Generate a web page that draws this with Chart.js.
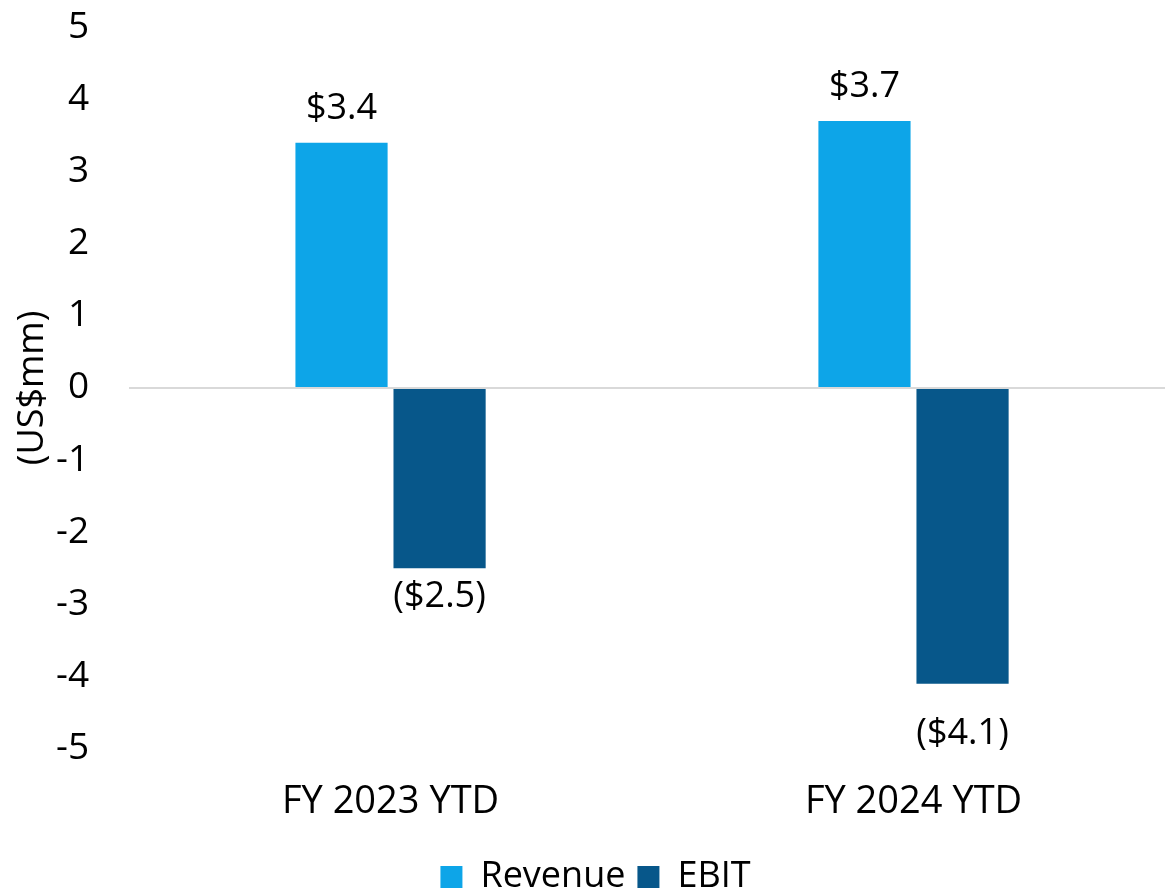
<!DOCTYPE html>
<html>
<head>
<meta charset="utf-8">
<script src="https://cdn.jsdelivr.net/npm/chart.js@4/dist/chart.umd.min.js"></script>
<style>
html,body{margin:0;padding:0;background:#fff;overflow:hidden;width:1165px;height:891px;}
#wrap{position:absolute;left:0;top:-34.7px;width:1175px;height:940px;}
</style>
</head>
<body>
<div id="wrap"><canvas id="c"></canvas></div>
<script>
const categories = ["FY 2023 YTD", "FY 2024 YTD"];
const revenue = [3.4, 3.7];
const ebit = [-2.5, -4.1];
const revenueLabels = ["$3.4", "$3.7"];
const ebitLabels = ["($2.5)", "($4.1)"];
const yTitle = "(US$mm)";

const FONT = "'Open Sans', sans-serif";

const valueLabels = {
  id: 'valueLabels',
  afterDatasetsDraw(chart, args, opts) {
    const ctx = chart.ctx;
    ctx.save();
    ctx.font = "36px " + FONT;
    ctx.fillStyle = '#000';
    ctx.textAlign = 'center';
    ctx.textBaseline = 'alphabetic';
    chart.data.datasets.forEach((ds, di) => {
      const meta = chart.getDatasetMeta(di);
      meta.data.forEach((bar, i) => {
        const v = ds.data[i];
        const txt = ds.labelsText[i];
        const off = (opts.offsets[di] || [])[i] || 0;
        if (v >= 0) ctx.fillText(txt, bar.x, bar.y - 24 - off);
        else ctx.fillText(txt, bar.x, bar.y + 39 + off);
      });
    });
    const ys = chart.scales.y;
    ctx.translate(33, (ys.top + ys.bottom) / 2);
    ctx.rotate(-Math.PI / 2);
    ctx.textBaseline = 'middle';
    ctx.fillText(yTitle, 0, 0);
    ctx.restore();
  }
};

new Chart(document.getElementById('c'), {
  type: 'bar',
  data: {
    labels: categories,
    datasets: [
      { label: 'Revenue', data: revenue, labelsText: revenueLabels, backgroundColor: '#0da5e8' },
      { label: 'EBIT', data: ebit, labelsText: ebitLabels, backgroundColor: '#07578a' }
    ]
  },
  options: {
    responsive: true,
    maintainAspectRatio: false,
    animation: false,
    layout: { padding: { top: 10, left: 16, right: 0, bottom: 0 } },
    datasets: { bar: { categoryPercentage: 0.375, barPercentage: 0.94 } },
    plugins: {
      tooltip: { enabled: false },
      valueLabels: { offsets: [[0, 0], [0, 21]] },
      legend: {
        position: 'bottom',
        labels: {
          font: { family: FONT, size: 36 },
          color: '#000',
          boxWidth: 22,
          boxHeight: 22,
          padding: 12
        }
      }
    },
    scales: {
      x: {
        grid: { display: false },
        border: { display: false },
        ticks: { font: { family: FONT, size: 38, lineHeight: 0.01 }, color: '#000', padding: 45 }
      },
      y: {
        min: -5, max: 5,
        ticks: { stepSize: 1, font: { family: FONT, size: 37 }, color: '#000', padding: 40 },
        border: { display: false },
        grid: {
          drawTicks: false,
          lineWidth: 2,
          color: (c) => (c.tick && c.tick.value === 0 ? '#d9d9d9' : 'rgba(0,0,0,0)')
        }
      }
    }
  },
  plugins: [valueLabels]
});
</script>
</body>
</html>
